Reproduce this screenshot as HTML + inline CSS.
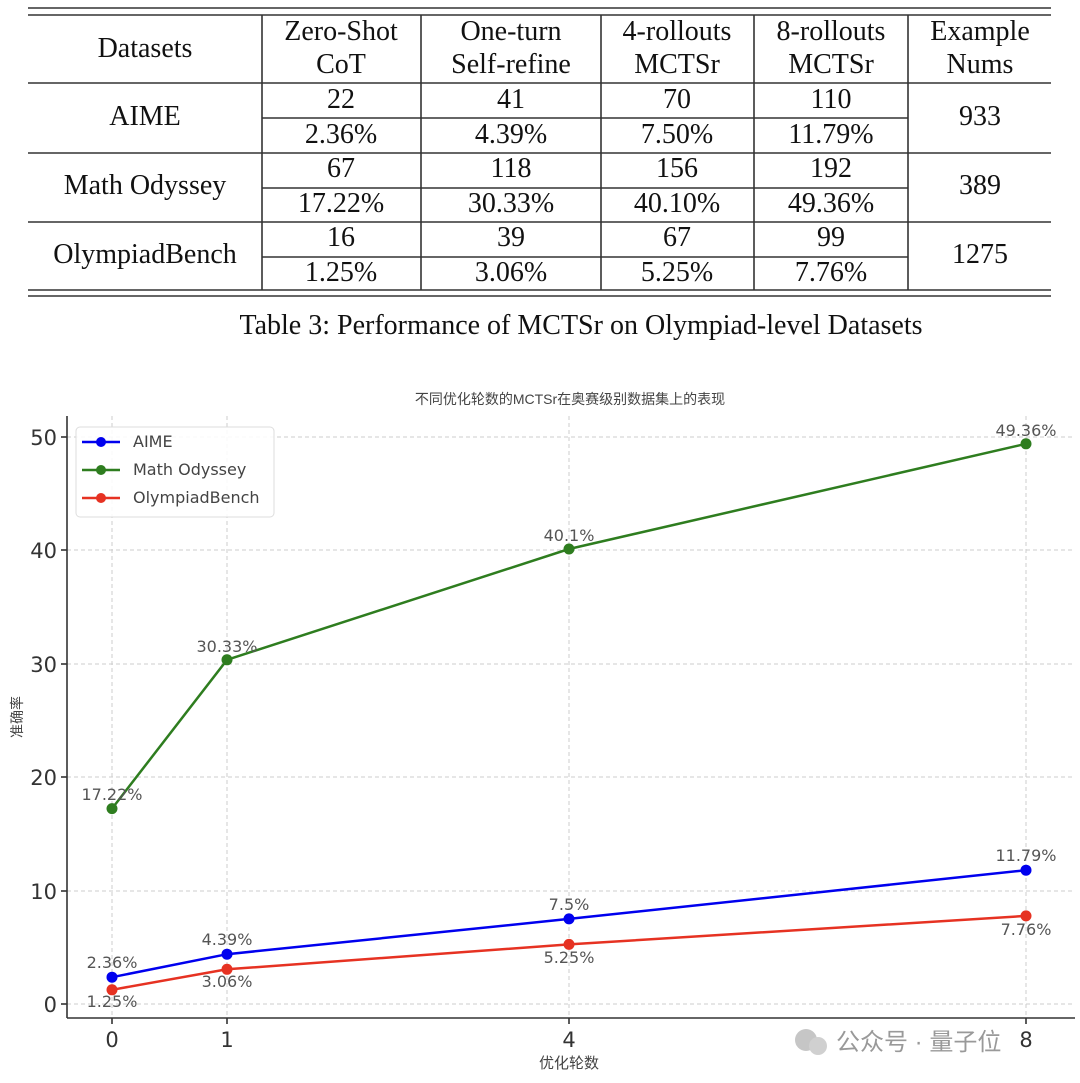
<!DOCTYPE html>
<html><head><meta charset="utf-8"><style>
body{margin:0;width:1080px;height:1083px;background:#fff;overflow:hidden;position:relative}
svg{position:absolute;left:0;top:0}
</style></head><body>
<svg width="1080" height="1083" viewBox="0 0 1080 1083">
<g stroke="#333" stroke-width="1.6" fill="none">
<line x1="28" y1="8" x2="1051" y2="8"/><line x1="28" y1="15" x2="1051" y2="15"/>
<line x1="28" y1="83" x2="1051" y2="83"/>
<line x1="262" y1="118" x2="908" y2="118"/>
<line x1="28" y1="153" x2="1051" y2="153"/>
<line x1="262" y1="188" x2="908" y2="188"/>
<line x1="28" y1="222" x2="1051" y2="222"/>
<line x1="262" y1="257" x2="908" y2="257"/>
<line x1="28" y1="290" x2="1051" y2="290"/><line x1="28" y1="296" x2="1051" y2="296"/>
<line x1="262" y1="15" x2="262" y2="290"/><line x1="421" y1="15" x2="421" y2="290"/>
<line x1="601" y1="15" x2="601" y2="290"/><line x1="754" y1="15" x2="754" y2="290"/>
<line x1="908" y1="15" x2="908" y2="290"/>
</g>
<g font-family="Liberation Serif, serif" font-size="28" fill="#111" text-anchor="middle">
<text x="145" y="57">Datasets</text>
<text x="341" y="40">Zero-Shot</text><text x="341" y="73">CoT</text>
<text x="511" y="40">One-turn</text><text x="511" y="73">Self-refine</text>
<text x="677" y="40">4-rollouts</text><text x="677" y="73">MCTSr</text>
<text x="831" y="40">8-rollouts</text><text x="831" y="73">MCTSr</text>
<text x="980" y="40">Example</text><text x="980" y="73">Nums</text>
<text x="145" y="125">AIME</text><text x="145" y="194">Math Odyssey</text><text x="145" y="263">OlympiadBench</text>
<text x="980" y="125">933</text><text x="980" y="194">389</text><text x="980" y="263">1275</text>
<text x="341" y="108">22</text><text x="511" y="108">41</text><text x="677" y="108">70</text><text x="831" y="108">110</text>
<text x="341" y="143">2.36%</text><text x="511" y="143">4.39%</text><text x="677" y="143">7.50%</text><text x="831" y="143">11.79%</text>
<text x="341" y="177">67</text><text x="511" y="177">118</text><text x="677" y="177">156</text><text x="831" y="177">192</text>
<text x="341" y="212">17.22%</text><text x="511" y="212">30.33%</text><text x="677" y="212">40.10%</text><text x="831" y="212">49.36%</text>
<text x="341" y="246">16</text><text x="511" y="246">39</text><text x="677" y="246">67</text><text x="831" y="246">99</text>
<text x="341" y="281">1.25%</text><text x="511" y="281">3.06%</text><text x="677" y="281">5.25%</text><text x="831" y="281">7.76%</text>
<text x="581" y="334" font-size="28">Table 3: Performance of MCTSr on Olympiad-level Datasets</text>
</g>
<text x="570" y="404" font-family="Liberation Sans, Noto Sans CJK SC, sans-serif" font-size="14" fill="#444" text-anchor="middle">不同优化轮数的MCTSr在奥赛级别数据集上的表现</text>
<g stroke="#ccc" stroke-width="1" stroke-dasharray="4,3">
<line x1="112" y1="416" x2="112" y2="1018"/><line x1="227" y1="416" x2="227" y2="1018"/>
<line x1="569" y1="416" x2="569" y2="1018"/><line x1="1026" y1="416" x2="1026" y2="1018"/>
<line x1="67" y1="437" x2="1075" y2="437"/><line x1="67" y1="550" x2="1075" y2="550"/>
<line x1="67" y1="664" x2="1075" y2="664"/><line x1="67" y1="777" x2="1075" y2="777"/>
<line x1="67" y1="891" x2="1075" y2="891"/><line x1="67" y1="1004" x2="1075" y2="1004"/>
</g>
<g stroke="#333" stroke-width="1.6"><line x1="67" y1="416" x2="67" y2="1018"/><line x1="67" y1="1018" x2="1075" y2="1018"/>
<line x1="61" y1="437" x2="67" y2="437"/><line x1="61" y1="550" x2="67" y2="550"/><line x1="61" y1="664" x2="67" y2="664"/><line x1="61" y1="777" x2="67" y2="777"/><line x1="61" y1="891" x2="67" y2="891"/><line x1="61" y1="1004" x2="67" y2="1004"/>
<line x1="112" y1="1018" x2="112" y2="1024"/><line x1="227" y1="1018" x2="227" y2="1024"/><line x1="569" y1="1018" x2="569" y2="1024"/><line x1="1026" y1="1018" x2="1026" y2="1024"/></g>
<g font-family="DejaVu Sans, sans-serif" font-size="21" fill="#333" text-anchor="end">
<text x="57" y="445">50</text><text x="57" y="558">40</text><text x="57" y="672">30</text><text x="57" y="785">20</text><text x="57" y="899">10</text><text x="57" y="1012">0</text></g>
<g font-family="DejaVu Sans, sans-serif" font-size="21" fill="#333" text-anchor="middle">
<text x="112" y="1047">0</text><text x="227" y="1047">1</text><text x="569" y="1047">4</text><text x="1026" y="1047">8</text></g>
<text x="569" y="1068" font-family="Liberation Sans, Noto Sans CJK SC, sans-serif" font-size="15" fill="#444" text-anchor="middle">优化轮数</text>
<text transform="translate(22,717) rotate(-90)" font-family="Liberation Sans, Noto Sans CJK SC, sans-serif" font-size="14" fill="#444" text-anchor="middle">准确率</text>
<polyline points="112,808.6 227,659.8 569,549 1026,443.8" fill="none" stroke="#2e7d1f" stroke-width="2.5"/>
<polyline points="112,977.2 227,954.2 569,918.9 1026,870.2" fill="none" stroke="#0000ee" stroke-width="2.5"/>
<polyline points="112,989.8 227,969.3 569,944.4 1026,915.9" fill="none" stroke="#e63222" stroke-width="2.5"/>
<g fill="#2e7d1f"><circle cx="112" cy="808.6" r="5.5"/><circle cx="227" cy="659.8" r="5.5"/><circle cx="569" cy="549" r="5.5"/><circle cx="1026" cy="443.8" r="5.5"/></g>
<g fill="#0000ee"><circle cx="112" cy="977.2" r="5.5"/><circle cx="227" cy="954.2" r="5.5"/><circle cx="569" cy="918.9" r="5.5"/><circle cx="1026" cy="870.2" r="5.5"/></g>
<g fill="#e63222"><circle cx="112" cy="989.8" r="5.5"/><circle cx="227" cy="969.3" r="5.5"/><circle cx="569" cy="944.4" r="5.5"/><circle cx="1026" cy="915.9" r="5.5"/></g>
<g font-family="DejaVu Sans, sans-serif" font-size="16" fill="#555" text-anchor="middle">
<text x="112" y="800">17.22%</text><text x="227" y="652">30.33%</text><text x="569" y="541">40.1%</text><text x="1026" y="436">49.36%</text>
<text x="112" y="968">2.36%</text><text x="227" y="945">4.39%</text><text x="569" y="910">7.5%</text><text x="1026" y="861">11.79%</text>
<text x="112" y="1007">1.25%</text><text x="227" y="987">3.06%</text><text x="569" y="963">5.25%</text><text x="1026" y="935">7.76%</text></g>
<rect x="76" y="427" width="198" height="90" rx="4" fill="#fff" fill-opacity="0.85" stroke="#ddd"/>
<g stroke-width="2.5"><line x1="82" y1="442" x2="120" y2="442" stroke="#0000ee"/><line x1="82" y1="470" x2="120" y2="470" stroke="#2e7d1f"/><line x1="82" y1="498" x2="120" y2="498" stroke="#e63222"/></g>
<circle cx="101" cy="442" r="5" fill="#0000ee"/><circle cx="101" cy="470" r="5" fill="#2e7d1f"/><circle cx="101" cy="498" r="5" fill="#e63222"/>
<g font-family="DejaVu Sans, sans-serif" font-size="16" fill="#444">
<text x="133" y="447">AIME</text><text x="133" y="475">Math Odyssey</text><text x="133" y="503">OlympiadBench</text></g>
<g opacity="0.55"><circle cx="806" cy="1040" r="11" fill="#999"/><circle cx="818" cy="1046" r="9" fill="#aaa"/></g>
<text x="836" y="1050" font-family="Liberation Sans, Noto Sans CJK SC, sans-serif" font-size="24" fill="#999">公众号 · 量子位</text>
</svg>
</body></html>
